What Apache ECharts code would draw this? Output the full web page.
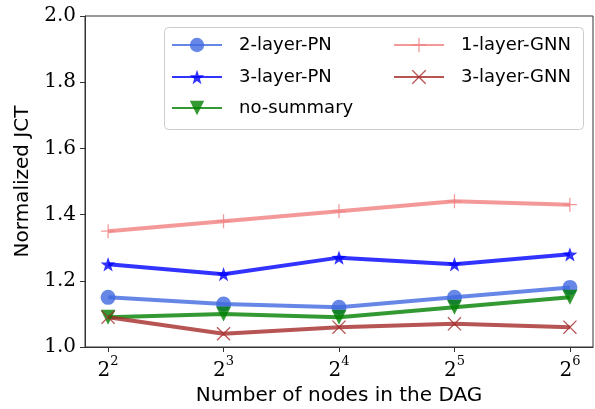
<!DOCTYPE html>
<html><head><meta charset="utf-8">
<script src="https://cdn.jsdelivr.net/npm/echarts@6/dist/echarts.min.js"></script>
<style>html,body{margin:0;padding:0;background:#fff}#c{width:595px;height:409px}</style>
</head><body><div id="c"></div>
<script>
const exponents = [2, 3, 4, 5, 6];
const yTicks = [1.0, 1.2, 1.4, 1.6, 1.8, 2.0];
const seriesNames = ['2-layer-PN', '3-layer-PN', 'no-summary', '1-layer-GNN', '3-layer-GNN'];
const twoLayerPN = [1.15, 1.13, 1.12, 1.15, 1.18];
const threeLayerPN = [1.25, 1.22, 1.27, 1.25, 1.28];
const noSummary = [1.09, 1.10, 1.09, 1.12, 1.15];
const oneLayerGNN = [1.35, 1.38, 1.41, 1.44, 1.43];
const threeLayerGNN = [1.09, 1.04, 1.06, 1.07, 1.06];

const STAR = 'path://M0,-10 L2.35,-3.24 L9.51,-3.09 L3.8,1.24 L5.88,8.09 L0,4 L-5.88,8.09 L-3.8,1.24 L-9.51,-3.09 L-2.35,-3.24 Z';
const PLUS = 'path://M-0.9,-10 L0.9,-10 L0.9,-0.9 L10,-0.9 L10,0.9 L0.9,0.9 L0.9,10 L-0.9,10 L-0.9,0.9 L-10,0.9 L-10,-0.9 L-0.9,-0.9 Z';
const CROSS = 'path://M-10,-8.7 L-8.7,-10 L0,-1.3 L8.7,-10 L10,-8.7 L1.3,0 L10,8.7 L8.7,10 L0,1.3 L-8.7,10 L-10,8.7 L-1.3,0 Z';

function pairs(vals){ return exponents.map((e,i)=>[e, vals[i]]); }
function mk(name, vals, color, symbol, size, rot){
  return {
    name, type:'line', data: pairs(vals), symbol, symbolSize: size, symbolRotate: rot||0,
    symbolKeepAspect: true,
    lineStyle:{color, width:4}, itemStyle:{color}, z: 3
  };
}
const chart = echarts.init(document.getElementById('c'), null, {renderer:'canvas'});
const SANS = 'DejaVu Sans';
const SERIF = 'DejaVu Serif';
const legendPos = [[171,45],[171,77],[171,108],[393,45],[393,77]];
const legends = seriesNames.map((n,i)=>({
  data:[n], orient:'vertical', left:legendPos[i][0], top:legendPos[i][1]-9, padding:0,
  itemWidth:50, itemHeight:18, z:5,
  textStyle:{fontFamily:SANS, fontSize:18, color:'#000', padding:[0,0,0,12]}
}));
chart.setOption({
  animation:false,
  grid:{left:85, right:2, top:16, bottom:62, show:true, borderColor:'#333', borderWidth:1, outerBoundsMode:'none', containLabel:false},
  xAxis:{
    type:'value', min:1.8, max:6.2, interval:1,
    axisLine:{show:true, lineStyle:{color:'#333'}},
    axisTick:{show:true, length:5, lineStyle:{color:'#333'}, customValues: exponents},
    axisLabel:{customValues: exponents, margin:8,
      formatter: v => '{b|2}{s|' + v + '}',
      rich:{ b:{fontFamily:SERIF, fontSize:20, color:'#000', lineHeight:22, verticalAlign:'bottom'},
             s:{fontFamily:SERIF, fontSize:13, color:'#000', verticalAlign:'top', padding:[0,0,13,0]} }
    },
    splitLine:{show:false},
    name:'Number of nodes in the DAG', nameLocation:'middle', nameGap:32,
    nameTextStyle:{fontFamily:SANS, fontSize:20, color:'#000'}
  },
  yAxis:{
    type:'value', min:1.0, max:2.0, interval:0.2,
    axisLine:{show:true, lineStyle:{color:'#333'}},
    axisTick:{show:true, length:5, lineStyle:{color:'#333'}},
    axisLabel:{fontFamily:SERIF, fontSize:20, color:'#000', margin:9, formatter: v => v.toFixed(1)},
    splitLine:{show:false},
    name:'Normalized JCT', nameLocation:'middle', nameGap:48,
    nameTextStyle:{fontFamily:SANS, fontSize:20, color:'#000'}
  },
  graphic:[{type:'rect', left:164, top:27, z:0, silent:true,
    shape:{width:419, height:102, r:4}, style:{fill:'rgba(255,255,255,0.8)', stroke:'#cccccc', lineWidth:1}}],
  legend: legends,
  series:[
    mk(seriesNames[0], twoLayerPN, 'rgba(65,105,225,0.8)', 'circle', 15),
    mk(seriesNames[1], threeLayerPN, 'rgba(0,0,255,0.8)', STAR, 15),
    mk(seriesNames[2], noSummary, 'rgba(0,128,0,0.8)', 'triangle', 15, 180),
    mk(seriesNames[3], oneLayerGNN, 'rgba(240,128,128,0.8)', PLUS, 14),
    mk(seriesNames[4], threeLayerGNN, 'rgba(165,42,42,0.8)', CROSS, 14)
  ]
});
</script></body></html>
